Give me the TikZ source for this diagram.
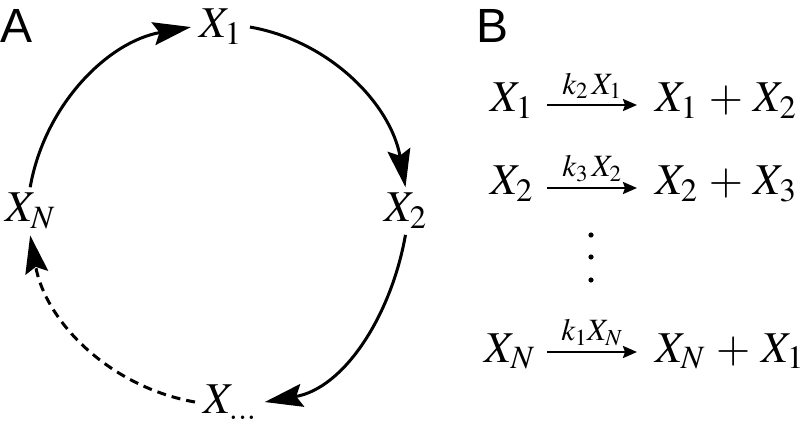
\documentclass[tikz,border=0pt]{standalone}
\usepackage{mathptmx}
\usepackage[no-math]{fontspec}
\newfontfamily\panelfont{Liberation Sans}
\usetikzlibrary{arrows.meta}
\begin{document}
\begin{tikzpicture}[x=1pt, y=1pt, line join=round,
    font=\fontsize{44}{52}\selectfont,
    spec/.style={inner xsep=8pt, inner ysep=6pt},
    cyc/.style={line width=3pt, -{Stealth[length=38pt,width=23pt,inset=6pt]}, looseness=0.95},
    rxn/.style={line width=2.3pt, -{Stealth[length=14pt,width=12pt,inset=2pt]}},
    rate/.style={above=5pt, inner sep=0pt, font=\fontsize{31}{37}\selectfont},
    panel/.style={anchor=north west, inner sep=0pt, font=\fontsize{48}{54}\panelfont}]
  \useasboundingbox (0,0) rectangle (807,-425);
  \node[panel] (A) at (0,-9) {A};
  \node[panel] (B) at (476,-9) {B};
  \node[spec, anchor=base west] (X1) at (191,-38) {$X_1$};
  \node[spec, anchor=base west] (X2) at (376,-222) {$X_2$};
  \node[spec, anchor=base west] (XN) at (-3,-222) {$X_N$};
  \node[spec, anchor=base west, inner ysep=0pt] (Xd) at (195,-413) {$X_{\ldots}$};
  \draw[cyc] (XN.north) to[out=80, in=190] (X1.west);
  \draw[cyc] (X1.east) to[out=-10, in=100] (X2.north);
  \draw[cyc] (X2.south) to[out=-100, in=10] (Xd.east);
  \draw[cyc, dash pattern=on 9pt off 6pt] (Xd.west) to[out=170, in=-80] (XN.south);
  \node[inner sep=0pt, anchor=base east] (l1) at (533,-112) {$X_1$};
  \node[inner sep=0pt, anchor=base west] (r1) at (655,-112) {$X_1 \,+\, X_2$};
  \node[inner sep=0pt, anchor=base east] (l2) at (533,-195) {$X_2$};
  \node[inner sep=0pt, anchor=base west] (r2) at (655,-195) {$X_2 \,+\, X_3$};
  \node[inner sep=0pt, anchor=base east] (lN) at (535,-362) {$X_N$};
  \node[inner sep=0pt, anchor=base west] (rN) at (655,-362) {$X_N \,+\, X_1$};
  \draw[rxn] ([xshift=14pt,yshift=7pt]l1.base east) -- node[rate]{$k_2\,X_1$} ([xshift=-18pt,yshift=7pt]r1.base west);
  \draw[rxn] ([xshift=14pt,yshift=7pt]l2.base east) -- node[rate]{$k_3\,X_2$} ([xshift=-18pt,yshift=7pt]r2.base west);
  \draw[rxn] ([xshift=12pt,yshift=10pt]lN.base east) -- node[rate]{$k_1X_N$} ([xshift=-18pt,yshift=10pt]rN.base west);
  \foreach \y in {235,257,280} \fill (591,-\y) circle (2.6pt);
\end{tikzpicture}
\end{document}
